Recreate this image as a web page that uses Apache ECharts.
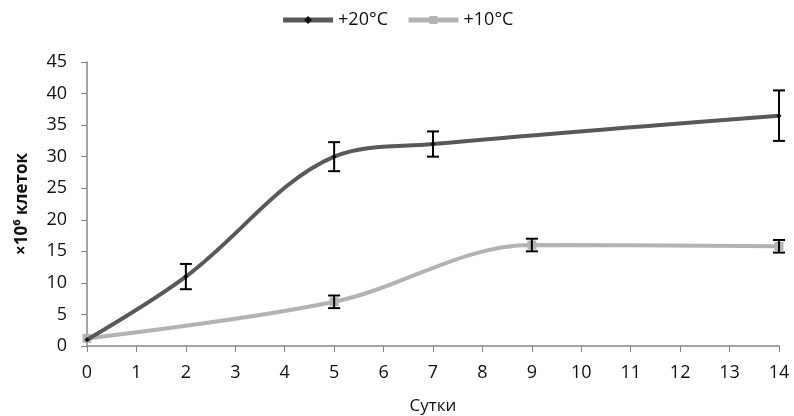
<!DOCTYPE html>
<html>
<head>
<meta charset="utf-8">
<script src="https://cdn.jsdelivr.net/npm/echarts@6/dist/echarts.min.js"></script>
<style>
  html, body { margin: 0; padding: 0; background: #fff; }
  #chart { width: 794px; height: 416px; }
</style>
</head>
<body>
<div id="chart"></div>
<script>
const days = [0, 1, 2, 3, 4, 5, 6, 7, 8, 9, 10, 11, 12, 13, 14];

const warmDays = [0, 2, 5, 7, 14];
const warmValues = [1, 11, 30, 32, 36.5];
const warmErr = [0, 2, 2.3, 2, 4];

const coldDays = [0, 5, 9, 14];
const coldValues = [1.2, 7, 16, 15.8];
const coldErr = [0, 1, 1, 1];

const yTicks = [0, 5, 10, 15, 20, 25, 30, 35, 40, 45];

function pairs(xs, ys) {
    return xs.map((x, i) => [x, ys[i]]);
}

function errData(xs, ys, es) {
    const out = [];
    xs.forEach((x, i) => {
        if (es[i] > 0) out.push([x, ys[i] - es[i], ys[i] + es[i]]);
    });
    return out;
}

function renderErr(params, api) {
    const lo = api.coord([api.value(0), api.value(1)]);
    const hi = api.coord([api.value(0), api.value(2)]);
    const w = 6;
    const style = { stroke: '#000', lineWidth: 2 };
    return {
        type: 'group',
        children: [
            { type: 'line', shape: { x1: hi[0], y1: hi[1], x2: lo[0], y2: lo[1] }, style: style },
            { type: 'line', shape: { x1: hi[0] - w, y1: hi[1], x2: hi[0] + w, y2: hi[1] }, style: style },
            { type: 'line', shape: { x1: lo[0] - w, y1: lo[1], x2: lo[0] + w, y2: lo[1] }, style: style }
        ]
    };
}

const chart = echarts.init(document.getElementById('chart'));
const font = 'Open Sans';
const txt = '#111';

chart.setOption({
    animation: false,
    legend: {
        top: 6,
        left: 'center',
        itemWidth: 50,
        itemHeight: 10,
        itemGap: 18,
        lineStyle: { width: 5 },
        textStyle: { fontFamily: font, fontSize: 18, color: txt },
        data: ['+20°C', '+10°C']
    },
    grid: { left: 87, right: 15, top: 62, bottom: 70, outerBoundsMode: 'none', containLabel: false },
    xAxis: {
        type: 'value',
        min: days[0],
        max: days[days.length - 1],
        interval: 1,
        name: 'Сутки',
        nameLocation: 'middle',
        nameGap: 52,
        nameTextStyle: { fontFamily: font, fontSize: 17, color: txt },
        axisLine: { lineStyle: { color: '#868686', width: 1.5 } },
        axisTick: { show: true, length: 6, lineStyle: { color: '#868686' } },
        axisLabel: { fontFamily: font, fontSize: 18, color: txt, margin: 18 },
        splitLine: { show: false }
    },
    yAxis: {
        type: 'value',
        min: yTicks[0],
        max: yTicks[yTicks.length - 1],
        interval: 5,
        name: '×10⁶ клеток',
        nameLocation: 'middle',
        nameRotate: 90,
        nameGap: 56,
        nameTextStyle: { fontFamily: font, fontSize: 17, fontWeight: 'bold', color: txt },
        axisLine: { show: true, lineStyle: { color: '#868686', width: 1.5 } },
        axisTick: { show: true, length: 6, lineStyle: { color: '#868686' } },
        axisLabel: { fontFamily: font, fontSize: 18, color: txt, margin: 20 },
        splitLine: { show: false }
    },
    series: [
        {
            name: '+20°C',
            type: 'line',
            smooth: 0.35,
            data: pairs(warmDays, warmValues),
            symbol: 'diamond',
            symbolSize: 5,
            itemStyle: { color: '#111' },
            lineStyle: { color: '#595959', width: 4 },
            color: '#595959',
            z: 3
        },
        {
            name: '+10°C',
            type: 'line',
            smooth: 0.35,
            data: pairs(coldDays, coldValues),
            symbol: 'rect',
            symbolSize: 9,
            itemStyle: { color: '#b3b3b3' },
            lineStyle: { color: '#b3b3b3', width: 4 },
            color: '#b3b3b3',
            z: 2
        },
        {
            type: 'custom',
            renderItem: renderErr,
            data: errData(warmDays, warmValues, warmErr),
            encode: { x: 0, y: [1, 2] },
            clip: false,
            z: 5
        },
        {
            type: 'custom',
            renderItem: renderErr,
            data: errData(coldDays, coldValues, coldErr),
            encode: { x: 0, y: [1, 2] },
            clip: false,
            z: 5
        }
    ]
});
</script>
</body>
</html>
